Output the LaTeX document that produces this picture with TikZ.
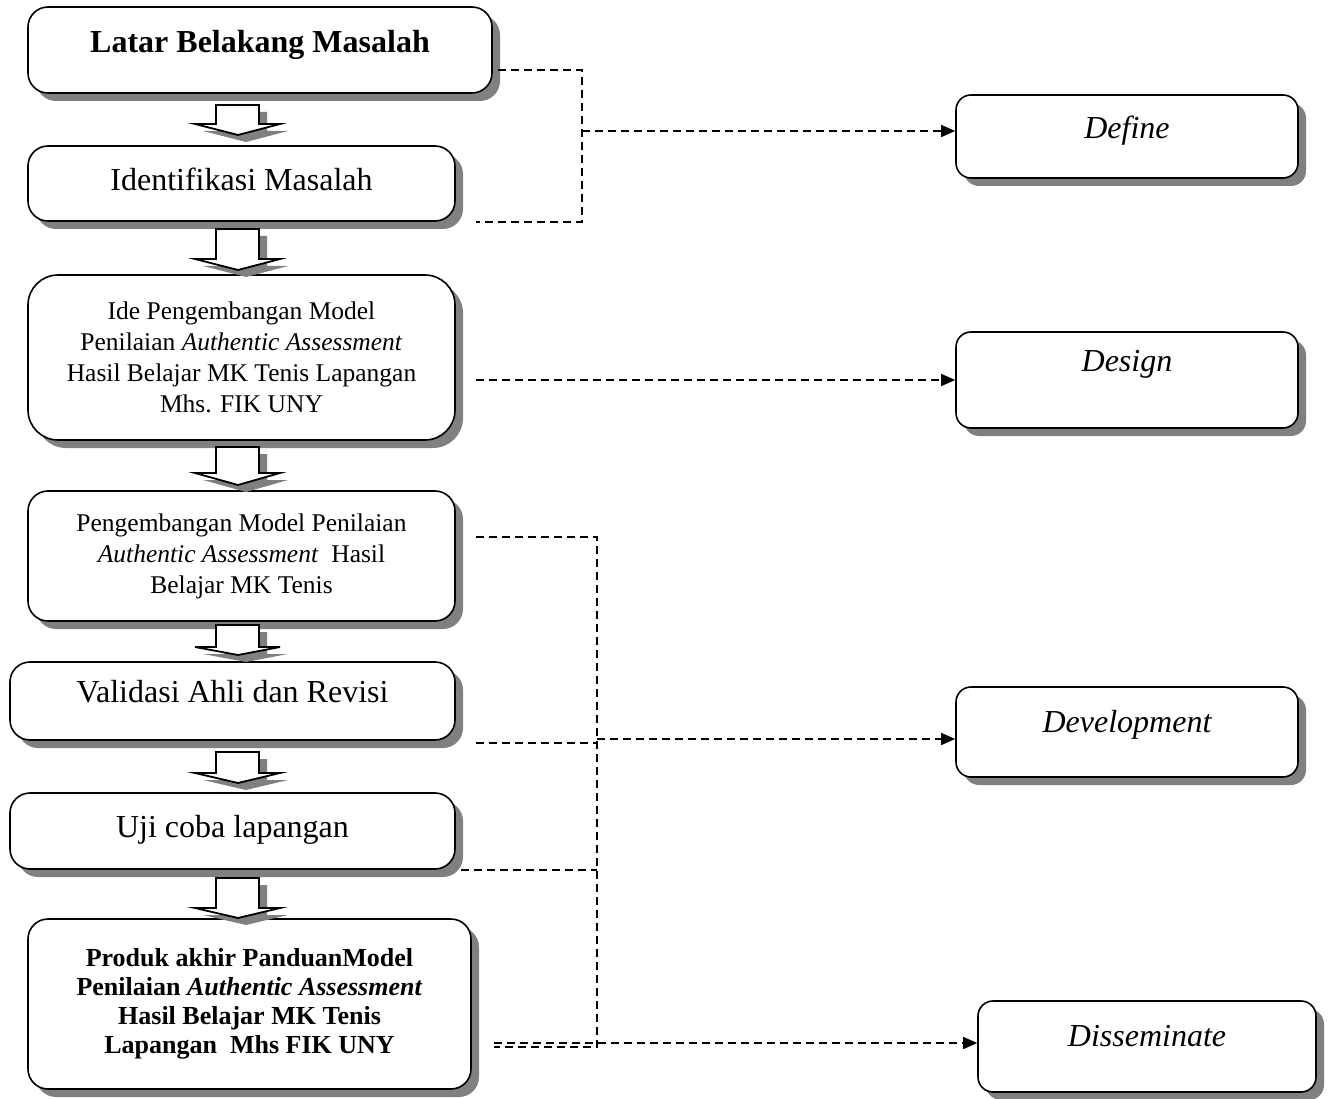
\documentclass[tikz,border=0pt]{standalone}
\usepackage{fontspec}
\setmainfont{Liberation Serif}
\usetikzlibrary{arrows.meta,calc,positioning,shadows}

\begin{document}
\begin{tikzpicture}[x=1pt,y=-1pt,>={Triangle[length=14pt,width=12pt]},
  stage/.style={draw,line width=1.6pt,rounded corners=20pt,fill=white,inner sep=2pt,align=center,
    drop shadow={shadow xshift=8pt,shadow yshift=-8pt,fill=black!50,opacity=1},
    font=\fontsize{32}{38}\selectfont},
  phase/.style={stage,rounded corners=15pt,font=\fontsize{32}{38}\selectfont\itshape},
  small/.style={font=\fontsize{25.5}{31}\selectfont},
  lift/.style={text height=22pt,text depth=#1},
  link/.style={dash pattern=on 8pt off 5pt,line width=1.5pt},
  downarrow/.style={draw,line width=1.8pt,fill=white,
    drop shadow={shadow xshift=8pt,shadow yshift=-7pt,fill=black!50,opacity=1}}]
\useasboundingbox (0,0) rectangle (1331,1099);

% tahapan penelitian (kiri)
\node[stage,lift=16pt,font=\fontsize{32}{38}\selectfont\bfseries,minimum width=464pt,minimum height=86pt] (latar) at (260,50) {Latar Belakang Masalah};
\node[stage,lift=7pt,minimum width=427pt,minimum height=75pt] (ident) at (241.5,183.5) {Identifikasi Masalah};
\node[stage,small,rounded corners=30pt,minimum width=427pt,minimum height=165pt] (ide) at (241.5,357.5) {Ide Pengembangan Model\\ Penilaian \textit{Authentic Assessment}\\ Hasil Belajar MK Tenis Lapangan\\ Mhs. FIK UNY};
\node[stage,small,minimum width=427pt,minimum height=130pt] (peng) at (241.5,556) {Pengembangan Model Penilaian\\ \textit{Authentic Assessment}\ \ Hasil\\ Belajar MK Tenis};
\node[stage,lift=19pt,minimum width=445pt,minimum height=78pt] (valid) at (232.5,701) {Validasi Ahli dan Revisi};
\node[stage,lift=9pt,minimum width=445pt,minimum height=76pt] (uji) at (232.5,831) {Uji coba lapangan};
\node[stage,font=\fontsize{26}{29}\selectfont\bfseries,minimum width=443pt,minimum height=170pt] (produk) at (249.5,1004) {Produk akhir PanduanModel\\ Penilaian \textit{Authentic Assessment}\\ Hasil Belajar MK Tenis\\ Lapangan\ \ Mhs FIK UNY};

% model 4-D (kanan)
\node[phase,lift=17pt,minimum width=342pt,minimum height=83pt] (define) at (1127,136.5) {Define};
\node[phase,lift=40pt,minimum width=342pt,minimum height=96pt] (design) at (1127,380) {Design};
\node[phase,lift=22pt,minimum width=342pt,minimum height=90pt] (devel) at (1127,732) {Development};
\node[phase,lift=23pt,minimum width=338pt,minimum height=91pt] (dissem) at (1147,1046.5) {Disseminate};

% panah blok antar tahap
\foreach \top/\neck/\tip in {105/124/135,229/259/270,447/473/485,625/647/655,752/773/783,878/908/918}
  \draw[downarrow] (216,\top) -- (259,\top) -- (259,\neck) -- (280,\neck) -- (238,\tip) -- (195,\neck) -- (216,\neck) -- cycle;

% garis putus-putus ke model 4-D
\coordinate (defjoin) at (582,131);
\coordinate (devjoin) at (597,739);
\coordinate (spinetop) at (597,537);
\coordinate (spinebot) at (597,1047);
\coordinate (validout) at ($(valid.south east)+(20,2)$);
\coordinate (dissjoin) at ($(produk.east)+(22,39)$);
\draw[link] ([xshift=5pt,yshift=-20pt]latar.east) -| (defjoin) |- ([xshift=20pt]ident.south east);
\draw[link,->] (defjoin) -- (defjoin -| define.west);
\draw[link,->] ($(ide.east |- design.west)+(20,0)$) -- (design.west);
\draw[link] ($(peng.east)+(20,-19)$) -- (spinetop) -- (spinebot) -- ($(produk.east)+(22,43)$);
\draw[link] (validout) -- (validout -| spinetop);
\draw[link] ($(uji.south east)+(5,0)$) -- (uji.south east -| spinetop);
\draw[link,->] (devjoin) -- (devjoin -| devel.west);
\draw[link,->] (dissjoin) -- (dissjoin -| dissem.west);
\end{tikzpicture}
\end{document}
